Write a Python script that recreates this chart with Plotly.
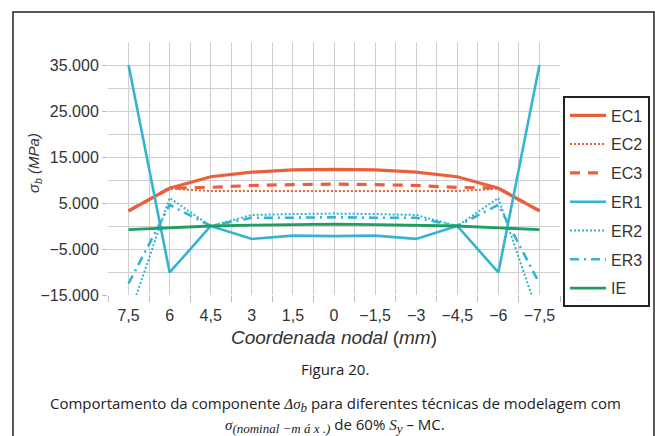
import plotly.graph_objects as go

# Nodal coordinate (mm) along the weld toe
coord = [7.5, 6, 4.5, 3, 1.5, 0, -1.5, -3, -4.5, -6, -7.5]

# Bending stress component sigma_b (MPa) for each modelling technique
ec1 = [3300, 8200, 10700, 11700, 12200, 12300, 12200, 11700, 10700, 8200, 3300]
ec2 = [3300, 8100, 7600, 7600, 7700, 7700, 7700, 7600, 7600, 8100, 3300]
ec3 = [3300, 8200, 8400, 8800, 9000, 9100, 9000, 8800, 8400, 8200, 3300]
er1 = [35000, -10100, 0, -2800, -2100, -2200, -2100, -2800, 0, -10100, 35000]
er2 = [-20000, 6100, 0, 2400, 2600, 2700, 2600, 2400, 0, 6100, -20000]
er3 = [-12500, 4600, 0, 1800, 1800, 1900, 1800, 1800, 0, 4600, -12500]
ie = [-800, -400, 0, 200, 300, 400, 300, 200, 0, -400, -800]

series_names = ["EC1", "EC2", "EC3", "ER1", "ER2", "ER3", "IE"]
y_ticks = [-15000, -5000, 5000, 15000, 25000, 35000]

ORANGE = "#E8613C"
CYAN = "#33B4D0"
GREEN = "#1F9E62"

styles = [
    dict(color=ORANGE, width=3.2, dash="solid"),
    dict(color=ORANGE, width=2, dash="2px,2px"),
    dict(color=ORANGE, width=3.2, dash="10px,8px"),
    dict(color=CYAN, width=2.6, dash="solid"),
    dict(color=CYAN, width=2, dash="2px,2px"),
    dict(color=CYAN, width=2.6, dash="9px,5px,2px,5px"),
    dict(color=GREEN, width=2.8, dash="solid"),
]

fig = go.Figure()
for name, ys, st in zip(series_names, [ec1, ec2, ec3, er1, er2, er3, ie], styles):
    fig.add_trace(go.Scatter(
        x=coord, y=ys, mode="lines", name=name, legendgroup=name,
        line=dict(color=st["color"], width=st["width"], dash=st["dash"]),
        cliponaxis=True,
    ))

GRID = "#CFCFCF"
SANS = "Liberation Sans, Arial, sans-serif"
TICKFONT = dict(family=SANS, size=16, color="#333333")

mids = [8.25 - 1.5 * i for i in range(12)]

L, R, T, B = 108, 95, 42, 141
PW, PH = 655 - L - R, 436 - T - B


def px(x):
    return (x - L) / PW


def py(y):
    return (436 - B - y) / PH


fig.update_layout(
    width=655, height=436,
    margin=dict(l=L, r=R, t=T, b=B, autoexpand=False),
    paper_bgcolor="white", plot_bgcolor="white",
    separators=",.",
    showlegend=True,
    legend=dict(
        x=px(650), xanchor="right", y=0.785, yanchor="top",
        bordercolor="#222222", borderwidth=2, bgcolor="white",
        font=dict(family=SANS, size=16, color="#333333"),
        tracegroupgap=5, itemwidth=36,
    ),
    xaxis=dict(
        range=[8.25, -8.25],
        tickvals=coord,
        ticks="", showgrid=True, gridcolor=GRID, gridwidth=1,
        zeroline=False, showline=False,
        tickfont=TICKFONT, ticklabelstandoff=9,
        minor=dict(tickvals=mids, ticks="outside", ticklen=6, tickcolor="#BBBBBB",
                   showgrid=True, gridcolor=GRID, gridwidth=1),
        title=dict(text="<i>Coordenada nodal</i> (<i>mm</i>)",
                   font=dict(family=SANS, size=19, color="#333333"),
                   standoff=7),
    ),
    yaxis=dict(
        range=[-15000, 40000],
        tickvals=y_ticks, tickformat=",d",
        ticks="outside", ticklen=5, tickcolor="#BBBBBB",
        showgrid=True, gridcolor=GRID, gridwidth=1,
        zeroline=False, showline=False,
        tickfont=TICKFONT,
    ),
)
fig.update_yaxes(minor=dict(dtick=5000, tick0=-15000, showgrid=True, gridcolor=GRID, gridwidth=1))

# Y axis title
fig.add_annotation(xref="paper", yref="paper", x=px(34), y=py(163),
                   text="<i>σ<sub>b</sub> (MPa)</i>", textangle=-90, showarrow=False,
                   font=dict(family=SANS, size=15, color="#333333"),
                   xanchor="center", yanchor="middle")

# Frame around the figure block
fig.add_shape(type="rect", xref="paper", yref="paper",
              x0=px(13), x1=px(654), y0=py(445), y1=py(12),
              line=dict(color="#222222", width=1.5), fillcolor="rgba(0,0,0,0)", layer="below")

CAP = "Open Sans, Noto Sans, sans-serif"
MATH = "font-family:Liberation Serif, DejaVu Serif, serif"
SUBSZ = "font-size:13px"

fig.add_annotation(xref="paper", yref="paper", x=px(335), y=py(369),
                   text="Figura 20.", showarrow=False,
                   font=dict(family=CAP, size=15, color="#222222"), xanchor="center", yanchor="middle")
fig.add_annotation(xref="paper", yref="paper", x=px(335), y=py(404),
                   text=("Comportamento da componente "
                         f"<span style='{MATH}'><i>Δσ<sub><span style='{SUBSZ}'>b</span></sub></i></span>"
                         " para diferentes técnicas de modelagem com"),
                   showarrow=False,
                   font=dict(family=CAP, size=15, color="#222222"), xanchor="center", yanchor="middle")
fig.add_annotation(xref="paper", yref="paper", x=px(335), y=py(425),
                   text=(f"<span style='{MATH}'><i>σ<sub><span style='{SUBSZ}'>(nominal −m á x .)</span></sub></i></span>"
                         f" de 60% <span style='{MATH}'><i>S<sub><span style='{SUBSZ}'>y</span></sub></i></span> – MC."),
                   showarrow=False,
                   font=dict(family=CAP, size=15, color="#222222"), xanchor="center", yanchor="middle")

fig.write_html("out.html")
